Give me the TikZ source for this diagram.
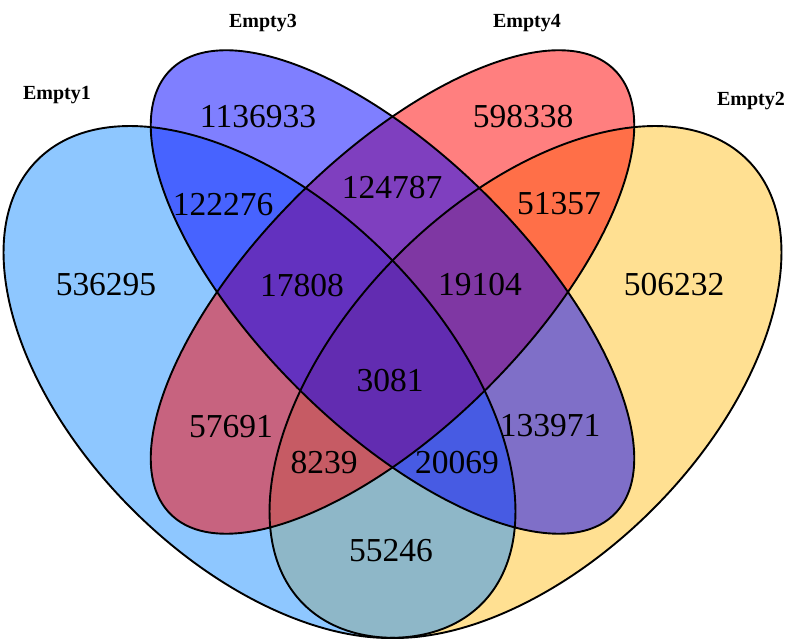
\documentclass[tikz,border=0pt]{standalone}
\usepackage{fontspec}
\setmainfont{Liberation Serif}
\definecolor{cGold}{RGB}{255,193,37}
\definecolor{cDodger}{RGB}{30,144,255}
\definecolor{cRed}{RGB}{255,0,0}
\definecolor{cBlue}{RGB}{0,0,255}
\begin{document}
\begin{tikzpicture}[x=1pt,y=1pt,
  num/.style={font=\fontsize{33.5}{36}\selectfont, inner sep=0pt},
  cat/.style={font=\fontsize{20}{22}\selectfont\bfseries, inner sep=0pt, anchor=base},
  setfill/.style={fill=#1, fill opacity=0.5, draw=none},
  outline/.style={draw=black, line width=1.9pt}]
\useasboundingbox (0,0) rectangle (785,642);
% fills (order: Empty2, Empty1, Empty4, Empty3)
\path[setfill=cGold, rotate around={45:(525.5,260)}] (525.5,260) ellipse [x radius=314, y radius=180];
\path[setfill=cDodger, rotate around={-45:(259.5,260)}] (259.5,260) ellipse [x radius=314, y radius=180];
\path[setfill=cRed, rotate around={45:(392.5,350)}] (392.5,350) ellipse [x radius=314, y radius=135];
\path[setfill=cBlue, rotate around={-45:(392.5,350)}] (392.5,350) ellipse [x radius=314, y radius=135];
% outlines
\path[outline, rotate around={45:(525.5,260)}] (525.5,260) ellipse [x radius=314, y radius=180];
\path[outline, rotate around={-45:(259.5,260)}] (259.5,260) ellipse [x radius=314, y radius=180];
\path[outline, rotate around={45:(392.5,350)}] (392.5,350) ellipse [x radius=314, y radius=135];
\path[outline, rotate around={-45:(392.5,350)}] (392.5,350) ellipse [x radius=314, y radius=135];
% category labels
\node[cat] (lab1) at (57,542) {Empty1};
\node[cat] (lab3) at (263,614) {Empty3};
\node[cat] (lab4) at (527,614) {Empty4};
\node[cat] (lab2) at (751,536) {Empty2};
% region counts
\node[num] (r3) at (258,525) {1136933};
\node[num] (r4) at (523,525) {598338};
\node[num] (r13) at (223,437) {122276};
\node[num] (r34) at (392,454) {124787};
\node[num] (r24) at (559,438) {51357};
\node[num] (r1) at (106,357) {536295};
\node[num] (r134) at (302,356) {17808};
\node[num] (r234) at (480,357) {19104};
\node[num] (r2) at (674,357) {506232};
\node[num] (r1234) at (390,261) {3081};
\node[num] (r14) at (231,215) {57691};
\node[num] (r23) at (550,216) {133971};
\node[num] (r124) at (324,179) {8239};
\node[num] (r123) at (457,179) {20069};
\node[num] (r12) at (391,91) {55246};
\end{tikzpicture}
\end{document}
